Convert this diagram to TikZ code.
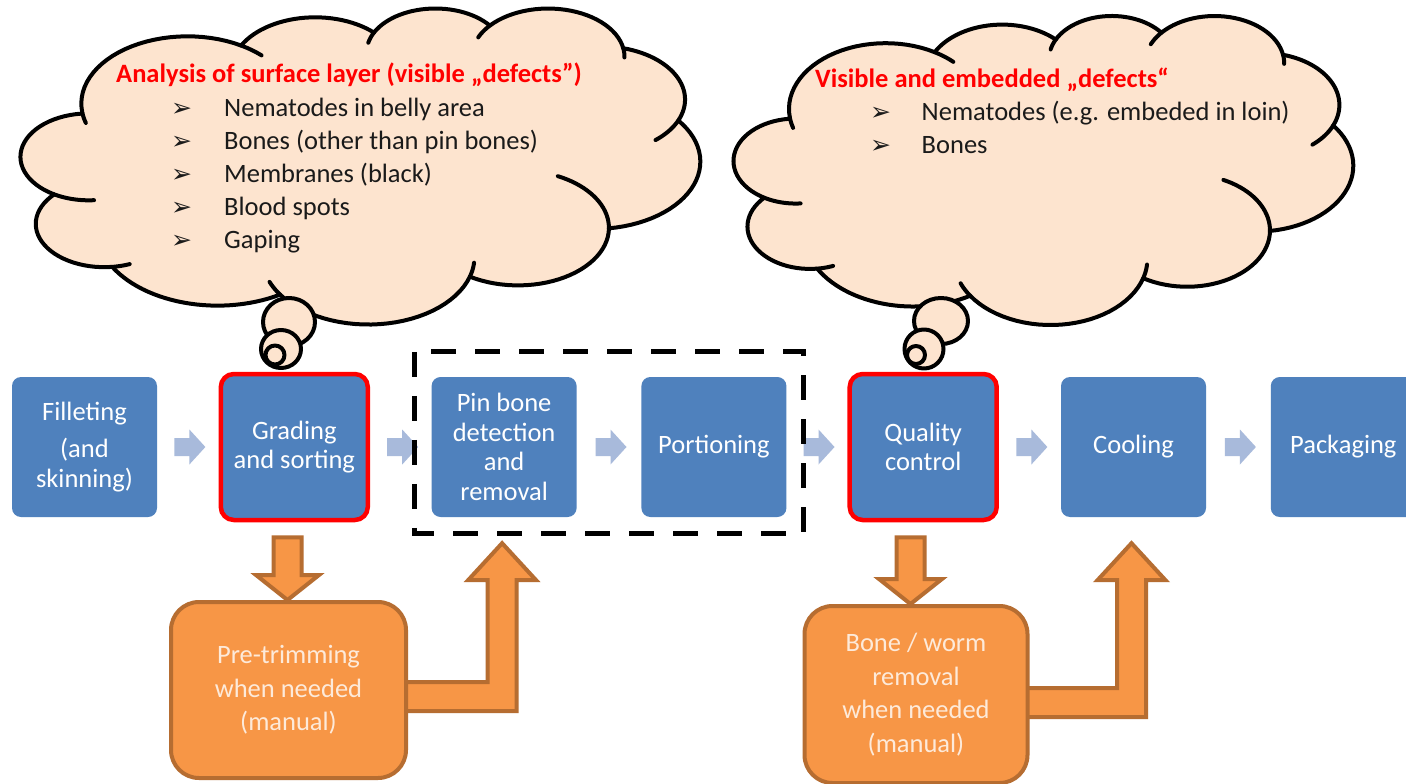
\documentclass[tikz,border=0pt]{standalone}
\usepackage{fontspec}
\setmainfont{Carlito}
\newfontfamily\symfont{DejaVu Sans}
\usetikzlibrary{calc}
\definecolor{boxblue}{HTML}{4F81BD}
\definecolor{arrblue}{HTML}{A8BADB}
\definecolor{orfill}{HTML}{F79646}
\definecolor{ordraw}{HTML}{B66D31}
\definecolor{ortext}{HTML}{FDEADA}
\definecolor{cloudfill}{HTML}{FDE4CF}
\definecolor{darktext}{HTML}{1A1A1A}
\pgfdeclarelayer{bg}
\pgfsetlayers{bg,main}
\tikzset{
  bluebox/.style={rectangle, rounded corners=9pt, fill=boxblue, minimum width=145pt, minimum height=140pt, inner sep=0pt, text=white, align=center, font=\fontsize{26.5}{29.5}\selectfont},
  redbox/.style={bluebox, draw=red, line width=4.5pt, minimum width=147pt, minimum height=146pt, rounded corners=13pt},
  orbox/.style={rectangle, rounded corners=28pt, fill=orfill, draw=ordraw, line width=4pt, inner sep=0pt, text=ortext, align=center, font=\fontsize{26.5}{33.5}\selectfont},
  orshape/.style={fill=orfill, draw=ordraw, line width=4pt},
  cloudline/.style={draw=black, line width=4pt, line join=round, fill=cloudfill},
  cloudstroke/.style={draw=black, line width=4pt, line cap=round},
  ctitle/.style={anchor=base west, inner sep=0pt, text=red, font=\bfseries\fontsize{26.5}{30}\selectfont},
  ctext/.style={anchor=base west, inner sep=0pt, text=darktext, font=\fontsize{26.5}{30}\selectfont},
  cbullet/.style={anchor=base west, inner sep=0pt, text=darktext, font=\symfont\fontsize{25}{25}\selectfont},
  dashbox/.style={draw=black, line width=5pt, dash pattern=on 25pt off 19pt},
}
% cloud outline (Office cloud geometry, 432 x 432 units, y downwards)
\newcommand\mycloud[4]{%
\begin{scope}[shift={(#1,#2)},xscale=#3,yscale=#4]
\path[cloudline] plot[domain=-187.75:-59.64,samples=30]({105.913+67.53*cos(\x)},{131.307+91.90*sin(\x)})
 -- plot[domain=-152.03:-45.46,samples=30]({187.149+53.33*cos(\x)},{86.089+72.67*sin(\x)})
 -- plot[domain=-153.50:-37.35,samples=30]({263.623+43.65*cos(\x)},{60.824+59.45*sin(\x)})
 -- plot[domain=-139.72:-10.21,samples=30]({335.368+48.57*cos(\x)},{67.362+65.95*sin(\x)})
 -- plot[domain=-74.77:23.21,samples=30]({369.160+53.33*cos(\x)},{125.847+72.73*sin(\x)})
 -- plot[domain=-37.54:81.86,samples=30]({364.460+67.75*cos(\x)},{210.700+92.20*sin(\x)})
 -- plot[domain=0.46:121.97,samples=30]({316.204+57.85*cos(\x)},{301.341+78.67*sin(\x)})
 -- plot[domain=16.84:146.23,samples=30]({220.953+67.52*cos(\x)},{341.387+92.15*sin(\x)})
 -- plot[domain=58.98:150.18,samples=30]({125.044+77.20*cos(\x)},{302.255+105.43*sin(\x)})
 -- plot[domain=83.31:223.07,samples=30]({52.992+43.60*cos(\x)},{295.910+59.18*sin(\x)})
 -- plot[domain=120.36:264.11,samples=30]({43.086+43.45*cos(\x)},{204.233+59.45*sin(\x)})
 -- cycle;
\draw[cloudstroke] plot[domain=85.55:120.36,samples=12]({43.086+43.45*cos(\x)},{204.233+59.45*sin(\x)});
\draw[cloudstroke] plot[domain=68.23:83.31,samples=12]({52.992+43.60*cos(\x)},{295.910+59.18*sin(\x)});
\draw[cloudstroke] plot[domain=146.23:158.47,samples=12]({220.953+67.52*cos(\x)},{341.387+92.15*sin(\x)});
\draw[cloudstroke] plot[domain=4.735:16.84,samples=12]({220.953+67.52*cos(\x)},{341.387+92.15*sin(\x)});
\draw[cloudstroke] plot[domain=-64.03:0.46,samples=20]({316.204+57.85*cos(\x)},{301.341+78.67*sin(\x)});
\draw[cloudstroke] plot[domain=23.21:49.64,samples=12]({369.160+53.33*cos(\x)},{125.847+72.73*sin(\x)});
\draw[cloudstroke] plot[domain=-10.21:0.82,samples=12]({335.368+48.57*cos(\x)},{67.362+65.95*sin(\x)});
\draw[cloudstroke] plot[domain=-156.29:-139.72,samples=12]({335.368+48.57*cos(\x)},{67.362+65.95*sin(\x)});
\draw[cloudstroke] plot[domain=-167.72:-153.50,samples=12]({263.623+43.65*cos(\x)},{60.824+59.45*sin(\x)});
\draw[cloudstroke] plot[domain=-59.64:-45.74,samples=12]({105.913+67.53*cos(\x)},{131.307+91.90*sin(\x)});
\draw[cloudstroke] plot[domain=163.19:172.25,samples=12]({105.913+67.53*cos(\x)},{131.307+91.90*sin(\x)});
\end{scope}}
% light blue block arrow between two boxes
\newcommand\bluearrow[2]{%
\fill[arrblue] ($(#1.east)!0.5!(#2.west)+(1.5,0)$) ++(-15,-9) -- ++(15,0) -- ++(0,-8.5) -- ++(16,17.5) -- ++(-16,17.5) -- ++(0,-8.5) -- ++(-15,0) -- cycle;}
% orange down block arrow
\newcommand\ordownarrow[3]{%
\filldraw[orshape] let \p1=(#1.south), \p2=(#2.north), \n1={\x2+#3} in
 ({\n1-14pt},{\y1-15pt}) -- ({\n1+14pt},{\y1-15pt}) -- ({\n1+14pt},{\y2+25pt}) -- ({\n1+31.5pt},{\y2+25pt})
 -- ({\n1},{\y2}) -- ({\n1-31.5pt},{\y2+25pt}) -- ({\n1-14pt},{\y2+25pt}) -- cycle;}
% orange bent-up block arrow
\newcommand\orbentarrow[3]{%
\filldraw[orshape] let \p1=(#1.east), \p2=(#2.south), \n1={\y1-#3} in
 ({\x1-12pt},{\n1+14.5pt}) -- ({\x2-16.5pt},{\n1+14.5pt}) -- ({\x2-16.5pt},{\y2-63pt}) -- ({\x2-36pt},{\y2-63pt})
 -- ({\x2-2pt},{\y2-26pt}) -- ({\x2+32pt},{\y2-63pt}) -- ({\x2+12.5pt},{\y2-63pt}) -- ({\x2+12.5pt},{\n1-14.5pt})
 -- ({\x1-12pt},{\n1-14.5pt}) -- cycle;}
\begin{document}
\begin{tikzpicture}[x=1pt,y=-1pt]
\useasboundingbox (0,0) rectangle (1406,784);
\begin{pgfonlayer}{bg}
\fill[white] (0,0) rectangle (1406,784);
\end{pgfonlayer}

% clouds
\mycloud{21}{7.5}{1.5718}{0.7313}
\filldraw[cloudline] (289,322) ellipse [x radius=26pt, y radius=24pt];
\filldraw[cloudline] (281,349) ellipse [x radius=20pt, y radius=19pt];
\filldraw[cloudline] (275,355) ellipse [x radius=9.5pt, y radius=9.5pt];
\mycloud{734}{15}{1.4329}{0.7151}
\filldraw[cloudline] (941,321) ellipse [x radius=27pt, y radius=23pt];
\filldraw[cloudline] (924,349) ellipse [x radius=19.5pt, y radius=19.5pt];
\filldraw[cloudline] (916,355) ellipse [x radius=9pt, y radius=9pt];

% cloud texts
\node[ctitle] (t1) at (116,82.7) {Analysis of surface layer (visible „defects”)};
\node[cbullet] (b11) at (171,116.5) {➢};
\node[ctext] (l11) at (224,116.5) {Nematodes in belly area};
\node[cbullet] (b12) at (171,149.5) {➢};
\node[ctext] (l12) at (224,149.5) {Bones (other than pin bones)};
\node[cbullet] (b13) at (171,182.5) {➢};
\node[ctext] (l13) at (224,182.5) {Membranes (black)};
\node[cbullet] (b14) at (171,215.5) {➢};
\node[ctext] (l14) at (224,215.5) {Blood spots};
\node[cbullet] (b15) at (171,248.5) {➢};
\node[ctext] (l15) at (224,248.5) {Gaping};

\node[ctitle] (t2) at (815,87.3) {Visible and embedded „defects“};
\node[cbullet] (b21) at (870,120) {➢};
\node[ctext] (l21) at (921.5,120) {Nematodes (e.g. embeded in loin)};
\node[cbullet] (b22) at (870,153) {➢};
\node[ctext] (l22) at (921.5,153) {Bones};

% process boxes
\node[bluebox] (fil) at (84.5,447) {Filleting\\[8pt](and\\skinning)};
\node[redbox] (grade) at (294.3,447) {Grading\\and sorting};
\node[bluebox] (pin) at (504.1,447) {Pin bone\\detection\\and\\removal};
\node[bluebox] (port) at (713.9,447) {Portioning};
\node[redbox] (qc) at (923.2,447) {Quality\\control};
\node[bluebox] (cool) at (1133.5,447) {Cooling};
\node[bluebox] (pack) at (1343.3,447) {Packaging};

\bluearrow{fil}{grade}
\bluearrow{grade}{pin}
\bluearrow{pin}{port}
\bluearrow{port}{qc}
\bluearrow{qc}{cool}
\bluearrow{cool}{pack}

\draw[dashbox] ($(pin.north west)+(-17,-25)$) rectangle ($(port.south east)+(17,16)$);

% manual steps
\node[orbox, minimum width=235pt, minimum height=176pt] (pretrim) at (288.5,690) {Pre-trimming\\when needed\\(manual)};
\node[orbox, minimum width=223pt, minimum height=177pt] (bone) at (916,694.5) {Bone / worm\\removal\\when needed\\(manual)};

\begin{pgfonlayer}{bg}
\ordownarrow{grade}{pretrim}{-1pt}
\ordownarrow{qc}{bone}{-5.5pt}
\orbentarrow{pretrim}{pin}{6.5pt}
\orbentarrow{bone}{cool}{8pt}
\end{pgfonlayer}
\end{tikzpicture}
\end{document}
